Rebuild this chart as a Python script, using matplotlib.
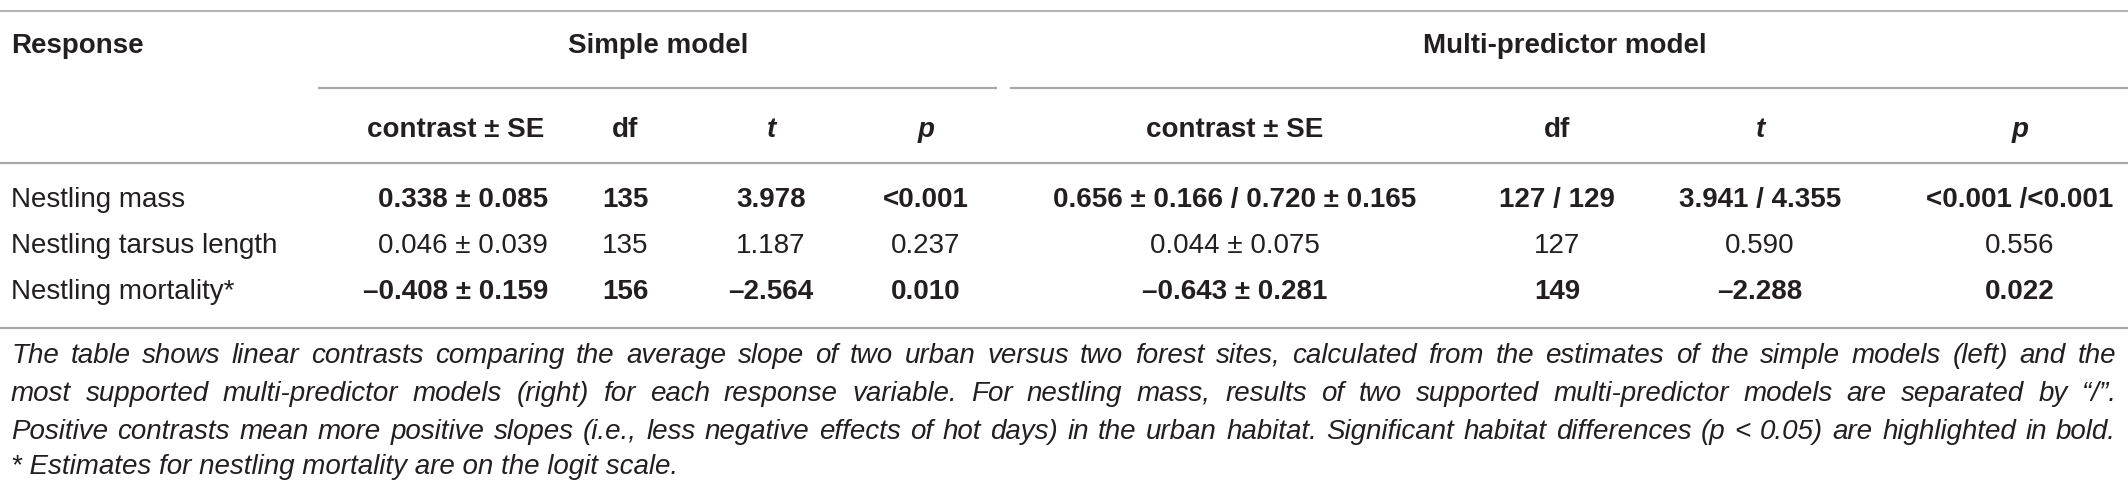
import matplotlib
matplotlib.use("Agg")
import matplotlib.pyplot as plt

plt.rcParams['font.family'] = ['Liberation Sans', 'DejaVu Sans']

# ---- data ----
responses = ["Nestling mass", "Nestling tarsus length", "Nestling mortality*"]
bold_rows = [True, False, True]
simple_contrast = ["0.338 ± 0.085", "0.046 ± 0.039", "–0.408 ± 0.159"]
simple_df = ["135", "135", "156"]
simple_t = ["3.978", "1.187", "–2.564"]
simple_p = ["<0.001", "0.237", "0.010"]
multi_contrast = ["0.656 ± 0.166 / 0.720 ± 0.165", "0.044 ± 0.075", "–0.643 ± 0.281"]
multi_df = ["127 / 129", "127", "149"]
multi_t = ["3.941 / 4.355", "0.590", "–2.288"]
multi_p = ["<0.001 /<0.001", "0.556", "0.022"]
sub_headers = ["contrast ± SE", "df", "t", "p"]
group_headers = ["Simple model", "Multi-predictor model"]
caption_lines = [
    "The table shows linear contrasts comparing the average slope of two urban versus two forest sites, calculated from the estimates of the simple models (left) and the",
    "most supported multi-predictor models (right) for each response variable. For nestling mass, results of two supported multi-predictor models are separated by \u201c/\u201d.",
    "Positive contrasts mean more positive slopes (i.e., less negative effects of hot days) in the urban habitat. Significant habitat differences (p < 0.05) are highlighted in bold.",
    "* Estimates for nestling mortality are on the logit scale.",
]

W, H = 2128, 496
fig = plt.figure(figsize=(W / 100, H / 100), dpi=100)
ax = fig.add_axes([0, 0, 1, 1])
ax.set_xlim(0, W)
ax.set_ylim(H, 0)
ax.axis('off')

TXT = '#231f20'
LINE = '#a8a8a8'
FS = 20

# rules
ax.plot([0, W], [11, 11], color='#b4b4b4', lw=1.5, solid_capstyle='butt')
ax.plot([318, 997], [88, 88], color=LINE, lw=1.6, solid_capstyle='butt')
ax.plot([1010, W], [88, 88], color=LINE, lw=1.6, solid_capstyle='butt')
ax.plot([0, W], [163, 163], color=LINE, lw=1.6, solid_capstyle='butt')
ax.plot([0, W], [328, 328], color=LINE, lw=1.6, solid_capstyle='butt')

# header row 1
ax.text(11, 46, "Response", fontsize=FS, fontweight='bold', color=TXT, ha='left', va='center')
ax.text(658, 46, group_headers[0], fontsize=FS, fontweight='bold', color=TXT, ha='center', va='center')
ax.text(1565, 46, group_headers[1], fontsize=FS, fontweight='bold', color=TXT, ha='center', va='center')

# column layout: (x, ha)
cols = [(548, 'right'), (625, 'center'), (771, 'center'), (926, 'center'),
        (1235, 'center'), (1557, 'center'), (1760, 'center'), (2020, 'center')]
styles = ['normal', 'normal', 'italic', 'italic']
for i, (x, ha) in enumerate(cols):
    hx = x - 4 if i == 0 else x
    ax.text(hx, 130, sub_headers[i % 4], fontsize=FS, fontweight='bold',
            fontstyle=styles[i % 4], color=TXT, ha=ha, va='center')

row_y = [200, 246, 292]
columns = [simple_contrast, simple_df, simple_t, simple_p,
           multi_contrast, multi_df, multi_t, multi_p]
for r, y in enumerate(row_y):
    ax.text(11, y, responses[r], fontsize=FS, color=TXT, ha='left', va='center')
    w = 'bold' if bold_rows[r] else 'normal'
    for c, (x, ha) in enumerate(cols):
        ax.text(x, y, columns[c][r], fontsize=FS, fontweight=w, color=TXT, ha=ha, va='center')

# caption (justified)
fig.canvas.draw()
renderer = fig.canvas.get_renderer()
cap_y = [356, 394, 432, 467]
x0, x1 = 11, 2116
for li, line in enumerate(caption_lines):
    y = cap_y[li]
    if li == len(caption_lines) - 1:
        ax.text(x0, y, line, fontsize=FS, fontstyle='italic', color=TXT, ha='left', va='center')
        continue
    words = line.split(' ')
    arts = []
    widths = []
    for wd in words:
        t = ax.text(0, y, wd, fontsize=FS, fontstyle='italic', color=TXT, ha='left', va='center')
        bb = t.get_window_extent(renderer=renderer)
        arts.append(t)
        widths.append(bb.width)
    gap = (x1 - x0 - sum(widths)) / (len(words) - 1)
    x = x0
    for t, wdt in zip(arts, widths):
        t.set_x(x)
        x += wdt + gap

fig.savefig('out.png', dpi=100)
